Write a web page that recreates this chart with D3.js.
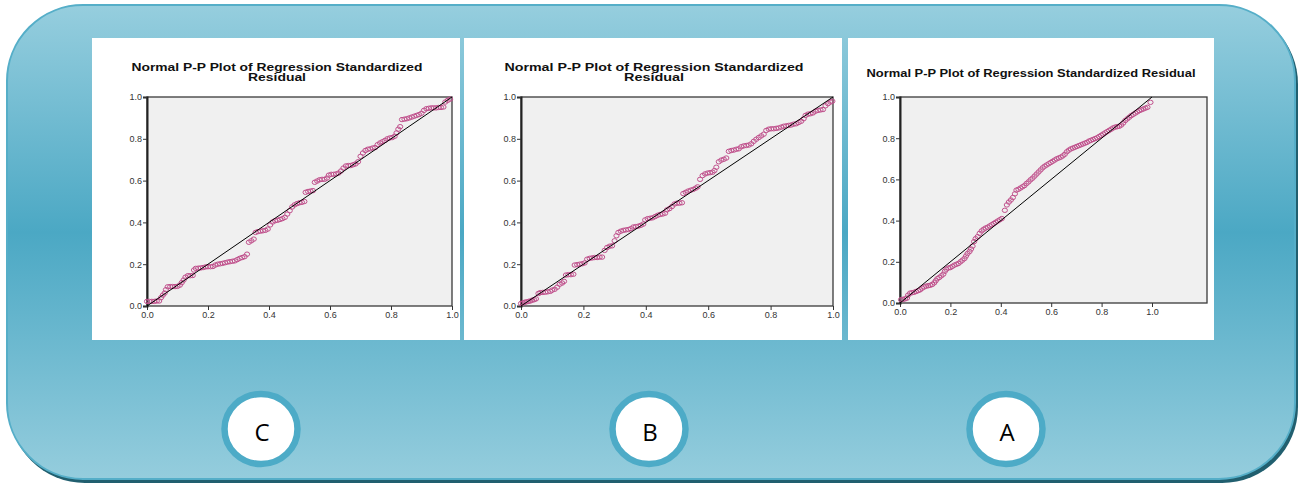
<!DOCTYPE html>
<html>
<head>
<meta charset="utf-8">
<script src="https://cdn.jsdelivr.net/npm/d3@7"></script>
<style>
  html, body { margin: 0; padding: 0; background: #fff; }
  svg { display: block; }
  .tick text { font-family: "Liberation Sans", Arial, sans-serif; }
</style>
</head>
<body>
<svg width="1303" height="486"></svg>
<script>
var obsC = [0.000,0.008,0.016,0.024,0.032,0.040,0.046,0.052,0.058,0.062,0.068,0.076,0.084,0.092,0.100,0.108,0.114,0.120,0.126,0.134,0.142,0.150,0.154,0.160,0.168,0.176,0.184,0.192,0.200,0.208,0.216,0.224,0.232,0.240,0.248,0.256,0.264,0.272,0.280,0.288,0.296,0.304,0.312,0.320,0.328,0.334,0.342,0.350,0.356,0.364,0.372,0.380,0.388,0.396,0.404,0.412,0.420,0.428,0.436,0.444,0.452,0.460,0.468,0.476,0.484,0.492,0.500,0.508,0.516,0.520,0.528,0.536,0.544,0.550,0.558,0.566,0.574,0.582,0.590,0.596,0.604,0.612,0.620,0.628,0.636,0.644,0.652,0.660,0.668,0.676,0.684,0.692,0.700,0.708,0.716,0.724,0.732,0.740,0.748,0.756,0.764,0.772,0.780,0.788,0.796,0.804,0.812,0.818,0.824,0.830,0.836,0.844,0.852,0.860,0.868,0.876,0.884,0.892,0.900,0.908,0.916,0.924,0.932,0.940,0.948,0.956,0.964,0.972,0.978,0.986,0.994];
var expC = [0.022,0.022,0.022,0.022,0.024,0.024,0.040,0.052,0.062,0.078,0.092,0.093,0.093,0.093,0.094,0.100,0.112,0.124,0.138,0.145,0.145,0.146,0.172,0.180,0.181,0.182,0.184,0.187,0.188,0.188,0.189,0.196,0.200,0.202,0.204,0.207,0.210,0.212,0.214,0.216,0.222,0.228,0.232,0.236,0.248,0.305,0.312,0.320,0.352,0.356,0.358,0.360,0.362,0.368,0.388,0.402,0.408,0.410,0.414,0.418,0.424,0.440,0.456,0.474,0.484,0.490,0.494,0.496,0.500,0.544,0.548,0.550,0.552,0.592,0.598,0.604,0.606,0.606,0.612,0.626,0.630,0.630,0.632,0.636,0.646,0.660,0.670,0.672,0.672,0.676,0.680,0.690,0.716,0.732,0.744,0.750,0.752,0.756,0.758,0.772,0.780,0.786,0.792,0.800,0.804,0.806,0.812,0.828,0.846,0.858,0.892,0.894,0.896,0.900,0.904,0.908,0.912,0.916,0.922,0.936,0.944,0.946,0.948,0.948,0.948,0.950,0.950,0.952,0.976,0.984,0.990];

var obsB = [0.000,0.006,0.012,0.018,0.024,0.030,0.036,0.042,0.048,0.056,0.062,0.070,0.078,0.086,0.094,0.100,0.108,0.116,0.124,0.132,0.138,0.144,0.152,0.160,0.168,0.172,0.180,0.188,0.196,0.204,0.212,0.220,0.228,0.236,0.244,0.252,0.260,0.268,0.276,0.284,0.292,0.300,0.306,0.312,0.320,0.328,0.336,0.344,0.352,0.360,0.368,0.376,0.384,0.392,0.398,0.406,0.414,0.422,0.430,0.438,0.446,0.454,0.462,0.468,0.476,0.484,0.492,0.500,0.508,0.516,0.520,0.528,0.536,0.544,0.552,0.560,0.566,0.574,0.582,0.590,0.598,0.606,0.614,0.620,0.626,0.634,0.642,0.650,0.658,0.666,0.674,0.682,0.690,0.698,0.706,0.714,0.722,0.730,0.738,0.746,0.754,0.762,0.770,0.778,0.786,0.794,0.802,0.810,0.818,0.826,0.834,0.842,0.850,0.858,0.866,0.874,0.882,0.890,0.898,0.906,0.912,0.920,0.928,0.936,0.944,0.952,0.960,0.968,0.976,0.984,0.992,0.998];
var expB = [0.012,0.014,0.018,0.020,0.022,0.024,0.028,0.030,0.034,0.060,0.064,0.065,0.066,0.068,0.070,0.076,0.080,0.090,0.104,0.110,0.118,0.148,0.150,0.150,0.152,0.196,0.198,0.200,0.202,0.206,0.224,0.228,0.230,0.232,0.232,0.234,0.234,0.266,0.280,0.286,0.288,0.312,0.336,0.352,0.358,0.362,0.364,0.366,0.370,0.378,0.380,0.382,0.386,0.392,0.412,0.418,0.420,0.422,0.428,0.434,0.438,0.440,0.444,0.460,0.466,0.476,0.488,0.492,0.492,0.494,0.538,0.544,0.550,0.554,0.558,0.564,0.570,0.606,0.624,0.632,0.636,0.638,0.640,0.648,0.664,0.690,0.698,0.702,0.708,0.740,0.744,0.746,0.750,0.752,0.762,0.766,0.768,0.770,0.776,0.788,0.798,0.806,0.814,0.822,0.840,0.846,0.848,0.848,0.850,0.852,0.856,0.860,0.862,0.864,0.866,0.870,0.872,0.878,0.884,0.896,0.912,0.918,0.920,0.924,0.932,0.936,0.938,0.940,0.958,0.968,0.976,0.980];

var obsA = [0.004,0.012,0.020,0.028,0.032,0.040,0.048,0.056,0.064,0.072,0.080,0.088,0.096,0.104,0.112,0.120,0.128,0.136,0.142,0.148,0.156,0.164,0.172,0.178,0.184,0.192,0.200,0.208,0.216,0.224,0.232,0.240,0.248,0.256,0.262,0.268,0.276,0.282,0.288,0.294,0.300,0.308,0.316,0.324,0.332,0.340,0.348,0.356,0.364,0.372,0.380,0.388,0.396,0.404,0.416,0.424,0.432,0.440,0.448,0.456,0.462,0.470,0.478,0.486,0.494,0.502,0.510,0.518,0.526,0.534,0.542,0.550,0.558,0.566,0.574,0.582,0.590,0.598,0.606,0.614,0.622,0.630,0.638,0.646,0.654,0.662,0.670,0.678,0.686,0.694,0.702,0.710,0.718,0.726,0.734,0.742,0.750,0.758,0.766,0.774,0.782,0.790,0.798,0.806,0.814,0.822,0.830,0.838,0.846,0.854,0.862,0.870,0.878,0.886,0.894,0.902,0.910,0.918,0.926,0.934,0.942,0.950,0.958,0.966,0.974,0.982,0.994];
var expA = [0.016,0.018,0.020,0.024,0.038,0.048,0.050,0.052,0.056,0.060,0.064,0.072,0.078,0.082,0.084,0.086,0.090,0.098,0.108,0.118,0.124,0.132,0.140,0.154,0.164,0.170,0.172,0.178,0.184,0.188,0.192,0.200,0.208,0.216,0.228,0.240,0.250,0.262,0.276,0.298,0.312,0.322,0.338,0.350,0.358,0.364,0.368,0.374,0.380,0.386,0.392,0.398,0.404,0.410,0.450,0.476,0.490,0.500,0.512,0.530,0.548,0.552,0.558,0.564,0.570,0.580,0.588,0.598,0.606,0.616,0.626,0.636,0.646,0.656,0.664,0.670,0.676,0.682,0.688,0.694,0.700,0.704,0.708,0.714,0.722,0.734,0.742,0.748,0.752,0.756,0.760,0.764,0.768,0.772,0.776,0.780,0.786,0.790,0.794,0.798,0.802,0.808,0.814,0.820,0.826,0.832,0.838,0.844,0.850,0.854,0.856,0.858,0.864,0.874,0.886,0.894,0.902,0.910,0.916,0.922,0.928,0.934,0.938,0.942,0.946,0.950,0.974];

var tickVals = [0, 0.2, 0.4, 0.6, 0.8, 1.0];
var titleLong = "Normal P-P Plot of Regression Standardized Residual";
var titleLine1 = "Normal P-P Plot of Regression Standardized";
var titleLine2 = "Residual";
var panelLetters = ["C", "B", "A"];

var svg = d3.select("svg");
var defs = svg.append("defs");

var grad = defs.append("linearGradient")
    .attr("id", "bg")
    .attr("x1", 0).attr("y1", 0).attr("x2", 0).attr("y2", 1);
grad.append("stop").attr("offset", "0%").attr("stop-color", "#96cede");
grad.append("stop").attr("offset", "48%").attr("stop-color", "#4ba8c4");
grad.append("stop").attr("offset", "100%").attr("stop-color", "#95cddd");

// backdrop
svg.append("rect")
    .attr("x", 9).attr("y", 8)
    .attr("width", 1289).attr("height", 475)
    .attr("rx", 76).attr("ry", 76)
    .attr("fill", "#215f6f");
svg.append("rect")
    .attr("x", 7).attr("y", 5)
    .attr("width", 1288).attr("height", 474)
    .attr("rx", 76).attr("ry", 76)
    .attr("fill", "url(#bg)")
    .attr("stroke", "#55aec8")
    .attr("stroke-width", 2);

var panels = [
  { box: [92, 38, 368, 302], left: 147, one: 452, right: 452, top: 97, bottom: 306,
    title: [titleLine1, titleLine2], tx: 277, ty: 71, tw: [291, 58], obs: obsC, exp: expC },
  { box: [464, 38, 378, 302], left: 521, one: 833, right: 833, top: 97, bottom: 306,
    title: [titleLine1, titleLine2], tx: 654, ty: 71, tw: [299, 60], obs: obsB, exp: expB },
  { box: [848, 38, 366, 302], left: 900, one: 1152, right: 1207, top: 97, bottom: 303,
    title: [titleLong], tx: 1031, ty: 77, tw: [329], obs: obsA, exp: expA }
];

panels.forEach(function(p) {
    var g = svg.append("g");

    g.append("rect")
        .attr("x", p.box[0]).attr("y", p.box[1])
        .attr("width", p.box[2]).attr("height", p.box[3])
        .attr("fill", "#ffffff");

    p.title.forEach(function(t, i) {
        g.append("text")
            .attr("x", p.tx)
            .attr("y", p.ty + i * 9.5)
            .attr("text-anchor", "middle")
            .attr("textLength", p.tw[i])
            .attr("lengthAdjust", "spacingAndGlyphs")
            .style("font-family", "'Liberation Sans', Arial, sans-serif")
            .style("font-weight", "bold")
            .style("font-size", "11px")
            .style("fill", "#111")
            .text(t);
    });

    var xScale = d3.scaleLinear().domain([0, 1]).range([p.left, p.one]);
    var yScale = d3.scaleLinear().domain([0, 1]).range([p.bottom, p.top]);

    g.append("rect")
        .attr("x", p.left).attr("y", p.top)
        .attr("width", p.right - p.left).attr("height", p.bottom - p.top)
        .attr("fill", "#f0f0f0")
        .attr("stroke", "#3a3a3a")
        .attr("stroke-width", 1.3);

    var fmt = d3.format(".1f");

    g.append("g")
        .attr("transform", "translate(0," + p.bottom + ")")
        .call(d3.axisBottom(xScale).tickValues(tickVals).tickFormat(fmt).tickSize(4).tickPadding(2))
        .call(function(a) {
            a.select(".domain").remove();
            a.selectAll("line").attr("stroke", "#333");
            a.selectAll("text").style("font-size", "9px").style("fill", "#333");
        });

    g.append("g")
        .attr("transform", "translate(" + p.left + ",0)")
        .call(d3.axisLeft(yScale).tickValues(tickVals).tickFormat(fmt).tickSize(4).tickPadding(1))
        .call(function(a) {
            a.select(".domain").attr("stroke", "#222").attr("stroke-width", 2);
            a.selectAll("line").attr("stroke", "#333");
            a.selectAll("text").style("font-size", "9px").style("fill", "#333");
        });

    var pts = p.obs.map(function(v, i) { return [v, p.exp[i]]; });

    g.selectAll(".pt")
        .data(pts)
        .enter()
        .append("ellipse")
        .attr("class", "pt")
        .attr("cx", function(d) { return xScale(d[0]); })
        .attr("cy", function(d) { return yScale(d[1]); })
        .attr("rx", 2.6)
        .attr("ry", 2.2)
        .attr("fill", "none")
        .attr("stroke", "#c0508c")
        .attr("stroke-width", 1);

    g.append("line")
        .attr("x1", xScale(0)).attr("y1", yScale(0))
        .attr("x2", xScale(1)).attr("y2", yScale(1))
        .attr("stroke", "#000")
        .attr("stroke-width", 1);
});

// letter badges
var badgeX = [261, 649, 1006];
panelLetters.forEach(function(l, i) {
    svg.append("ellipse")
        .attr("cx", badgeX[i]).attr("cy", 429)
        .attr("rx", 36.5).attr("ry", 35)
        .attr("fill", "#ffffff")
        .attr("stroke", "#4dabc7")
        .attr("stroke-width", 6.5);
    svg.append("text")
        .attr("x", badgeX[i] + 1)
        .attr("y", 441)
        .attr("text-anchor", "middle")
        .style("font-family", "'Open Sans', 'Liberation Sans', sans-serif")
        .style("font-size", "24px")
        .style("fill", "#000")
        .text(l);
});
</script>
</body>
</html>
